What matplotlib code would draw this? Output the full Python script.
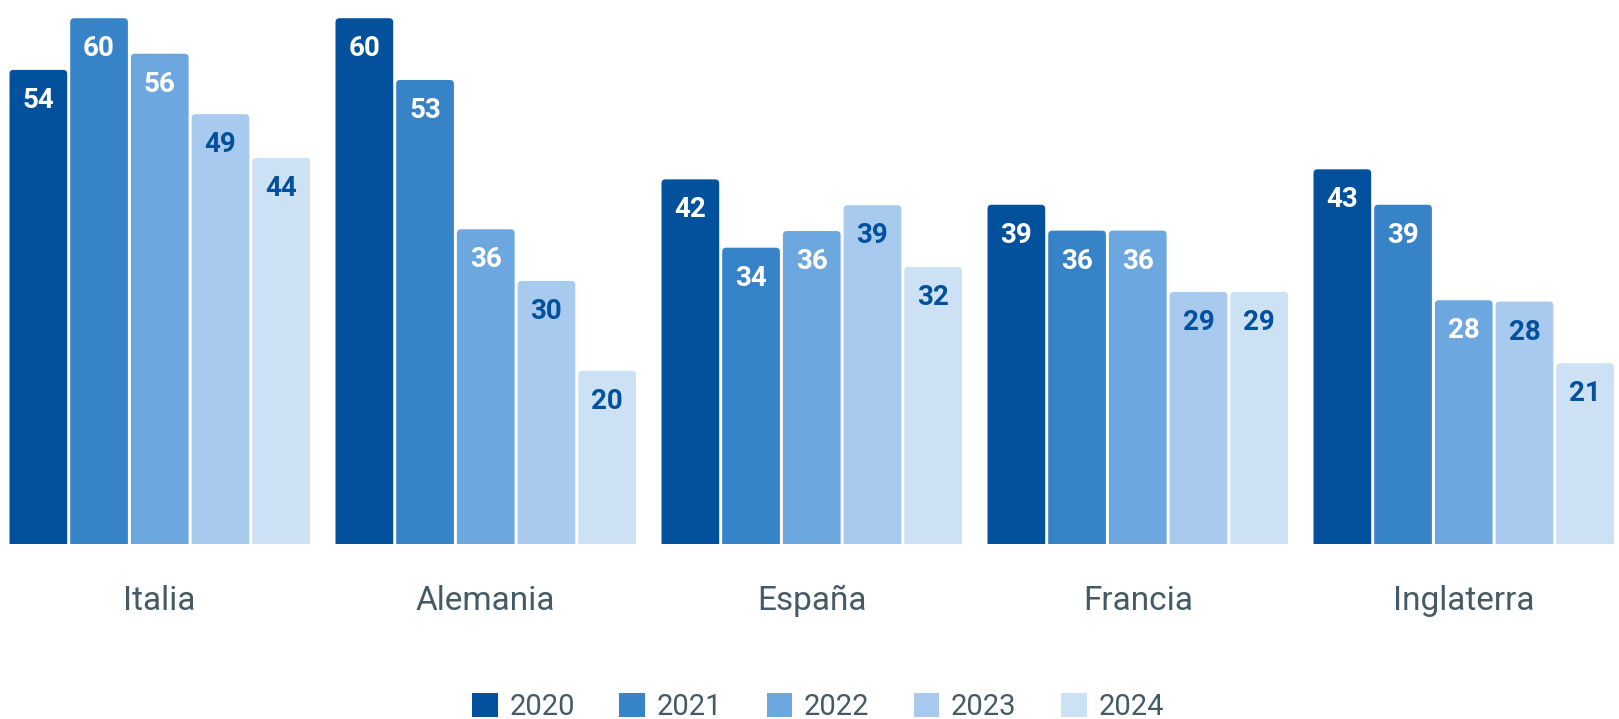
import matplotlib
matplotlib.use("Agg")
import matplotlib.pyplot as plt
from matplotlib.patches import FancyBboxPatch, Patch
import numpy as np

plt.rcParams['font.family'] = ['Roboto', 'DejaVu Sans']

countries = ["Italia", "Alemania", "España", "Francia", "Inglaterra"]
years = ["2020", "2021", "2022", "2023", "2024"]
v2020 = [54.1, 60.0, 41.6, 38.7, 42.75]
v2021 = [60.0, 52.95, 33.8, 35.75, 38.7]
v2022 = [55.95, 35.9, 35.7, 35.75, 27.8]
v2023 = [49.05, 30.0, 38.65, 28.75, 27.65]
v2024 = [44.05, 19.75, 31.6, 28.75, 20.6]
series = [v2020, v2021, v2022, v2023, v2024]
colors = ["#03519C", "#3783C8", "#6CA7DF", "#A8CAEE", "#CDE1F5"]
label_colors = ["white", "white", "white", "#03519C", "#03519C"]

W, H = 1619, 719
DPI = 100
fig = plt.figure(figsize=(W / DPI, H / DPI), dpi=DPI)

base_px = 543.7
px_per_unit = 8.758
group_px = 326.0
ax_bottom = (H - base_px) / H
ax = fig.add_axes([0, ax_bottom, 1, 1 - ax_bottom])
ax.set_ylim(0, base_px / px_per_unit)
first_center = 159.75
ax.set_xlim(-first_center / group_px, (W - first_center) / group_px)
ax.axis('off')

bar_pitch = 60.7 / group_px
bar_w = 57.7 / group_px
radius = 4.0 / group_px
aspect = group_px / px_per_unit

x = np.arange(len(countries))
for j, vals in enumerate(series):
    offs = (j - 2) * bar_pitch
    for i, v in enumerate(vals):
        xc = x[i] + offs
        p = FancyBboxPatch((xc - bar_w / 2, -2), bar_w, v + 2,
                           boxstyle=f"round,pad=0,rounding_size={radius}",
                           mutation_aspect=aspect, facecolor=colors[j],
                           edgecolor='none', linewidth=0)
        ax.add_patch(p)
        ax.annotate(f"{v:.0f}", xy=(xc, v), xytext=(0, -38 * 72 / DPI),
                    textcoords='offset points', ha='center', va='baseline',
                    fontsize=20, fontweight='bold', color=label_colors[j])

for i, c in enumerate(countries):
    ax.annotate(c, xy=(x[i], 0), xycoords=('data', 'axes fraction'),
                xytext=(0, -66 * 72 / DPI), textcoords='offset points',
                ha='center', va='baseline', fontsize=24, color='#455A64')

handles = [Patch(facecolor=colors[j], edgecolor='none', label=years[j]) for j in range(5)]
fig.legend(handles=handles, loc='center', bbox_to_anchor=(818 / W, 1 - 707 / H),
           ncol=5, frameon=False, fontsize=21, handlelength=0.88, handleheight=0.88,
           handletextpad=0.4, columnspacing=1.52, borderpad=0, labelcolor='#455A64')

fig.savefig("out.png", dpi=DPI)
